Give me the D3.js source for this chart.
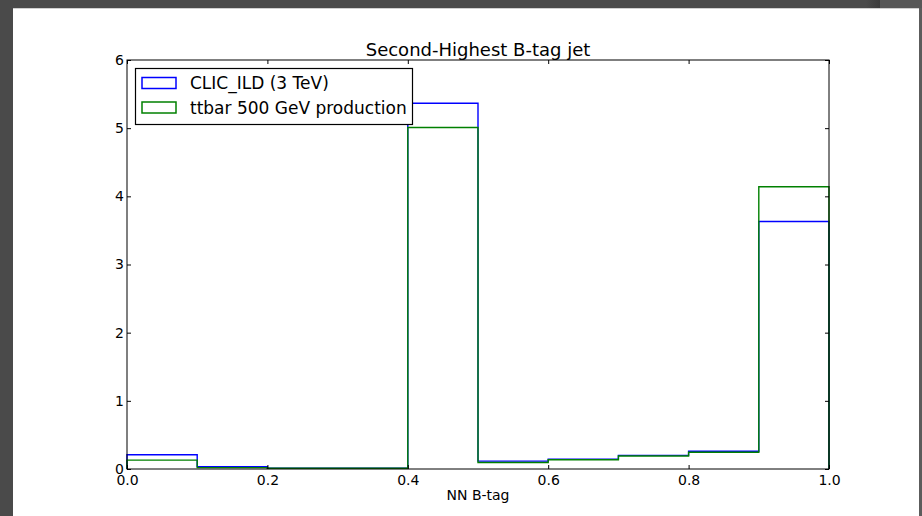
<!DOCTYPE html>
<html>
<head>
<meta charset="utf-8">
<script src="https://cdn.jsdelivr.net/npm/d3@7/dist/d3.min.js"></script>
<style>
  html, body { margin: 0; padding: 0; background: #4a4a4a; }
  svg { display: block; }
  text { font-family: "DejaVu Sans", sans-serif; fill: #000; }
</style>
</head>
<body>
<svg id="chart" width="922" height="516"></svg>
<script>
// Histogram bins (NN B-tag output) and normalised entries per bin
const binEdges = [0.0, 0.1, 0.2, 0.3, 0.4, 0.5, 0.6, 0.7, 0.8, 0.9, 1.0];
const clicIld  = [0.21, 0.035, 0.01, 0.01, 5.365, 0.115, 0.145, 0.20, 0.26, 3.63];
const ttbar500 = [0.13, 0.02, 0.01, 0.01, 5.01, 0.095, 0.135, 0.19, 0.245, 4.14];
const seriesNames = ["CLIC_ILD (3 TeV)", "ttbar 500 GeV production"];
const seriesColors = ["#0000ff", "#008000"];
const xTicks = [0.0, 0.2, 0.4, 0.6, 0.8, 1.0];
const yTicks = [0, 1, 2, 3, 4, 5, 6];
const titleText = "Second-Highest B-tag jet";
const xLabelText = "NN B-tag";

const svg = d3.select("#chart");

// window frame around the figure canvas
svg.append("rect").attr("x", 880).attr("y", 0).attr("width", 42).attr("height", 8).attr("fill", "#575757");
const grad = svg.append("defs").append("linearGradient").attr("id", "shade");
grad.append("stop").attr("offset", "0").attr("stop-color", "#4a4a4a");
grad.append("stop").attr("offset", "1").attr("stop-color", "#3c3c3c");
svg.append("rect").attr("x", 866).attr("y", 0).attr("width", 14).attr("height", 8).attr("fill", "url(#shade)");
svg.append("rect").attr("x", 13).attr("y", 8).attr("width", 906).attr("height", 508).attr("fill", "#ffffff");
svg.append("rect").attr("x", 13).attr("y", 8).attr("width", 906).attr("height", 1).attr("fill", "#cfcfcf");
svg.append("rect").attr("x", 919).attr("y", 8).attr("width", 3).attr("height", 508).attr("fill", "#5c5c5c");

const plot = { left: 127, right: 829, top: 60, bottom: 469 };
const x = d3.scaleLinear().domain([0, 1]).range([plot.left, plot.right]);
const y = d3.scaleLinear().domain([0, 6]).range([plot.bottom, plot.top]);

// step outlines of the histograms
function stepPoints(vals) {
  const pts = [[binEdges[0], 0]];
  vals.forEach((v, i) => pts.push([binEdges[i], v]));
  pts.push([binEdges[binEdges.length - 1], vals[vals.length - 1]]);
  pts.push([binEdges[binEdges.length - 1], 0]);
  return pts;
}
const stepLine = d3.line().x(d => x(d[0])).y(d => y(d[1])).curve(d3.curveStepAfter);

[clicIld, ttbar500].forEach((vals, i) => {
  svg.append("path")
    .attr("d", stepLine(stepPoints(vals)))
    .attr("fill", "none")
    .attr("stroke", seriesColors[i])
    .attr("stroke-width", 1.4)
    .attr("stroke-linejoin", "miter");
});

// axes: ticks point inward on all four sides
const fmtX = d3.format(".1f");
const axB = svg.append("g").attr("transform", `translate(0,${plot.bottom})`)
  .call(d3.axisBottom(x).tickValues(xTicks).tickSizeInner(-4).tickSizeOuter(0).tickPadding(6).tickFormat(fmtX));
const axT = svg.append("g").attr("transform", `translate(0,${plot.top})`)
  .call(d3.axisTop(x).tickValues(xTicks).tickSizeInner(-4).tickSizeOuter(0).tickFormat(""));
const axL = svg.append("g").attr("transform", `translate(${plot.left},0)`)
  .call(d3.axisLeft(y).tickValues(yTicks).tickSizeInner(-4).tickSizeOuter(0).tickPadding(3).tickFormat(d3.format("d")));
const axR = svg.append("g").attr("transform", `translate(${plot.right},0)`)
  .call(d3.axisRight(y).tickValues(yTicks).tickSizeInner(-4).tickSizeOuter(0).tickFormat(""));
[axB, axT, axL, axR].forEach(g => {
  g.select(".domain").remove();
  g.selectAll("line").attr("stroke", "#000");
  g.selectAll("text").attr("font-size", 14).attr("font-family", "DejaVu Sans").attr("fill", "#000");
});

// plot frame
svg.append("rect")
  .attr("x", plot.left).attr("y", plot.top)
  .attr("width", plot.right - plot.left).attr("height", plot.bottom - plot.top)
  .attr("fill", "none").attr("stroke", "#000").attr("stroke-width", 1);

// title and axis label
svg.append("text").attr("x", (plot.left + plot.right) / 2).attr("y", 56)
  .attr("text-anchor", "middle").attr("font-size", 18).text(titleText);
svg.append("text").attr("x", (plot.left + plot.right) / 2).attr("y", 500)
  .attr("text-anchor", "middle").attr("font-size", 14).text(xLabelText);

// legend
const leg = svg.append("g");
leg.append("rect").attr("x", 135.5).attr("y", 68.5).attr("width", 277).attr("height", 56)
  .attr("fill", "#fff").attr("stroke", "#000").attr("stroke-width", 1.2);
seriesNames.forEach((name, i) => {
  const yy = 77.5 + i * 24.5;
  leg.append("rect").attr("x", 142).attr("y", yy).attr("width", 34).attr("height", 11)
    .attr("fill", "none").attr("stroke", seriesColors[i]).attr("stroke-width", 1.5);
  leg.append("text").attr("x", 190).attr("y", yy + 11.5).attr("font-size", 17).text(name);
});
</script>
</body>
</html>
